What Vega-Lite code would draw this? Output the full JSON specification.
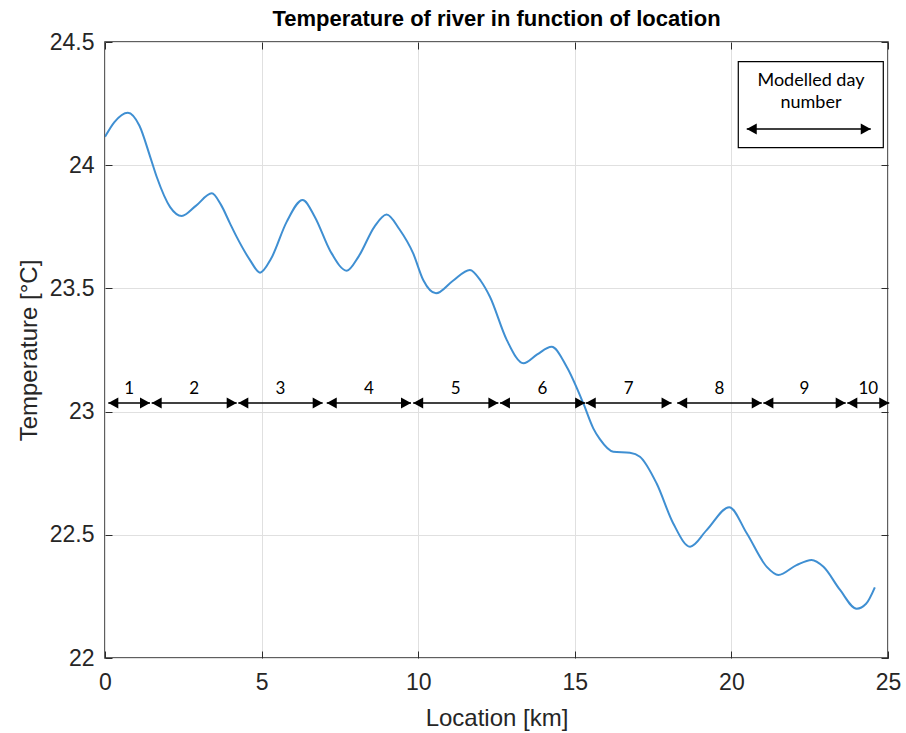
{
  "$schema": "https://vega.github.io/schema/vega-lite/v6.json",
  "autosize": "none",
  "width": 783,
  "height": 616,
  "padding": {"left": 105, "top": 42, "right": 18, "bottom": 75},
  "background": "white",
  "title": {"text": "Temperature of river in function of location", "font": "Liberation Sans", "fontSize": 22, "fontWeight": "bold", "color": "#000000", "offset": 0, "anchor": "middle"},
  "config": {
    "view": {"stroke": "#2b2b2b", "strokeWidth": 1.5},
    "axis": {"grid": true, "gridColor": "#e0e0e0", "gridWidth": 1, "domain": false, "ticks": true, "tickSize": -7, "tickColor": "#2b2b2b", "tickWidth": 1, "labelFlush": false, "labelFont": "Liberation Sans", "labelFontSize": 23, "labelColor": "#262626", "titleFont": "Liberation Sans", "titleFontSize": 24, "titleFontWeight": "normal", "titleColor": "#262626"}
  },
  "resolve": {"axis": {"x": "independent", "y": "independent"}},
  "datasets": {
    "curve": [
      {"x": 0, "t": 24.115}, {"x": 0.3, "t": 24.175}, {"x": 0.73, "t": 24.213}, {"x": 1.1, "t": 24.16}, {"x": 1.44, "t": 24.035}, {"x": 1.65, "t": 23.953}, {"x": 2.08, "t": 23.83}, {"x": 2.45, "t": 23.794}, {"x": 2.9, "t": 23.835}, {"x": 3.41, "t": 23.886}, {"x": 3.7, "t": 23.84}, {"x": 3.99, "t": 23.764}, {"x": 4.2, "t": 23.71}, {"x": 4.63, "t": 23.615}, {"x": 4.95, "t": 23.564}, {"x": 5.3, "t": 23.62}, {"x": 5.8, "t": 23.77}, {"x": 6.31, "t": 23.859}, {"x": 6.7, "t": 23.79}, {"x": 7.2, "t": 23.65}, {"x": 7.72, "t": 23.572}, {"x": 8.1, "t": 23.63}, {"x": 8.6, "t": 23.75}, {"x": 8.99, "t": 23.8}, {"x": 9.4, "t": 23.74}, {"x": 9.84, "t": 23.642}, {"x": 10.16, "t": 23.534}, {"x": 10.57, "t": 23.48}, {"x": 11.1, "t": 23.53}, {"x": 11.65, "t": 23.575}, {"x": 12.0, "t": 23.53}, {"x": 12.29, "t": 23.466}, {"x": 12.83, "t": 23.29}, {"x": 13.36, "t": 23.196}, {"x": 13.8, "t": 23.232}, {"x": 14.26, "t": 23.263}, {"x": 14.74, "t": 23.182}, {"x": 15.27, "t": 23.034}, {"x": 15.59, "t": 22.932}, {"x": 15.8, "t": 22.888}, {"x": 16.23, "t": 22.837}, {"x": 16.76, "t": 22.833}, {"x": 17.08, "t": 22.817}, {"x": 17.61, "t": 22.709}, {"x": 18.14, "t": 22.547}, {"x": 18.68, "t": 22.452}, {"x": 19.21, "t": 22.519}, {"x": 19.93, "t": 22.612}, {"x": 20.49, "t": 22.506}, {"x": 21.13, "t": 22.37}, {"x": 21.5, "t": 22.337}, {"x": 22.08, "t": 22.377}, {"x": 22.56, "t": 22.398}, {"x": 22.94, "t": 22.37}, {"x": 23.47, "t": 22.276}, {"x": 24.0, "t": 22.2}, {"x": 24.3, "t": 22.22}, {"x": 24.58, "t": 22.287}
    ],
    "days": [
      {"day": "1", "start": 0.105, "end": 1.437},
      {"day": "2", "start": 1.49, "end": 4.205},
      {"day": "3", "start": 4.256, "end": 6.95},
      {"day": "4", "start": 7.08, "end": 9.77},
      {"day": "5", "start": 9.84, "end": 12.56},
      {"day": "6", "start": 12.61, "end": 15.33},
      {"day": "7", "start": 15.35, "end": 18.09},
      {"day": "8", "start": 18.27, "end": 20.97},
      {"day": "9", "start": 21.02, "end": 23.65},
      {"day": "10", "start": 23.7, "end": 25.04}
    ]
  },
  "layer": [
    {
      "data": {"name": "curve"},
      "mark": {"type": "line", "interpolate": "monotone", "color": "#3f8fd2", "strokeWidth": 2, "clip": true},
      "encoding": {
        "x": {"field": "x", "type": "quantitative", "scale": {"domain": [0, 25], "nice": false, "zero": false}, "axis": {"title": "Location [km]", "values": [0, 5, 10, 15, 20, 25], "labelPadding": 20, "titlePadding": 12}},
        "y": {"field": "t", "type": "quantitative", "scale": {"domain": [22, 24.5], "nice": false, "zero": false}, "axis": {"title": "Temperature [°C]", "values": [22, 22.5, 23, 23.5, 24, 24.5], "format": "~g", "labelPadding": 18, "titlePadding": 8}}
      }
    },
    {
      "data": {"name": "days"},
      "mark": {"type": "rule", "color": "#000000", "strokeWidth": 1.5},
      "encoding": {
        "x": {"field": "start", "type": "quantitative", "axis": {"orient": "top", "title": null, "labels": false, "grid": false, "values": [0, 5, 10, 15, 20, 25]}},
        "x2": {"field": "end"},
        "y": {"datum": 23.035, "axis": {"orient": "right", "title": null, "labels": false, "grid": false, "values": [22, 22.5, 23, 23.5, 24, 24.5]}}
      }
    },
    {
      "data": {"name": "days"},
      "mark": {"type": "point", "shape": "M0,0L2,-1.1L2,1.1Z", "size": 100, "filled": true, "color": "#000000", "opacity": 1, "strokeWidth": 0},
      "encoding": {
        "x": {"field": "start", "type": "quantitative", "axis": null},
        "y": {"datum": 23.035, "axis": null}
      }
    },
    {
      "data": {"name": "days"},
      "mark": {"type": "point", "shape": "M0,0L-2,-1.1L-2,1.1Z", "size": 100, "filled": true, "color": "#000000", "opacity": 1, "strokeWidth": 0},
      "encoding": {
        "x": {"field": "end", "type": "quantitative", "axis": null},
        "y": {"datum": 23.035, "axis": null}
      }
    },
    {
      "data": {"name": "days"},
      "transform": [{"calculate": "(datum.start + datum.end) / 2", "as": "mid"}],
      "mark": {"type": "text", "font": "Lato", "fontSize": 17, "color": "#000000", "baseline": "middle", "dy": -14},
      "encoding": {
        "x": {"field": "mid", "type": "quantitative", "axis": null},
        "y": {"datum": 23.035, "axis": null},
        "text": {"field": "day"}
      }
    },
    {
      "data": {"values": [{}]},
      "mark": {"type": "rect", "fill": "white", "stroke": "#000000", "strokeWidth": 1.2},
      "encoding": {
        "x": {"datum": 20.22, "axis": null},
        "x2": {"datum": 24.85},
        "y": {"datum": 24.42, "axis": null},
        "y2": {"datum": 24.071}
      }
    },
    {
      "data": {"values": [{}]},
      "mark": {"type": "text", "text": ["Modelled day", "number"], "font": "Lato", "fontSize": 18, "lineHeight": 22, "color": "#000000", "baseline": "middle", "align": "center"},
      "encoding": {
        "x": {"datum": 22.54, "axis": null},
        "y": {"datum": 24.342, "axis": null}
      }
    },
    {
      "data": {"values": [{}]},
      "mark": {"type": "rule", "color": "#000000", "strokeWidth": 1.5},
      "encoding": {
        "x": {"datum": 20.49, "axis": null},
        "x2": {"datum": 24.45},
        "y": {"datum": 24.147, "axis": null}
      }
    },
    {
      "data": {"values": [{}]},
      "mark": {"type": "point", "shape": "M0,0L2,-1.1L2,1.1Z", "size": 100, "filled": true, "color": "#000000", "opacity": 1, "strokeWidth": 0},
      "encoding": {
        "x": {"datum": 20.49, "axis": null},
        "y": {"datum": 24.147, "axis": null}
      }
    },
    {
      "data": {"values": [{}]},
      "mark": {"type": "point", "shape": "M0,0L-2,-1.1L-2,1.1Z", "size": 100, "filled": true, "color": "#000000", "opacity": 1, "strokeWidth": 0},
      "encoding": {
        "x": {"datum": 24.45, "axis": null},
        "y": {"datum": 24.147, "axis": null}
      }
    }
  ]
}
